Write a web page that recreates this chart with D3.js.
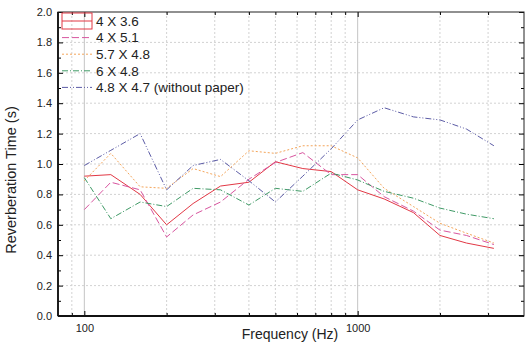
<!DOCTYPE html>
<html>
<head>
<meta charset="utf-8">
<script src="https://cdn.jsdelivr.net/npm/d3@7"></script>
<style>
  body { margin: 0; background: #fff; }
  svg { display: block; font-family: "Liberation Sans", Arial, sans-serif; }
</style>
</head>
<body>
<div id="chart"></div>
<script>
// Data
var frequencies = [100, 125, 160, 200, 250, 315, 400, 500, 630, 800, 1000, 1250, 1600, 2000, 2500, 3150]
var seriesNames = ["4 X 3.6", "4 X 5.1", "5.7 X 4.8", "6 X 4.8", "4.8 X 4.7 (without paper)"]
var room4x36 = [0.92, 0.93, 0.80, 0.60, 0.74, 0.855, 0.88, 1.015, 0.97, 0.95, 0.83, 0.77, 0.68, 0.53, 0.48, 0.445]
var room4x51 = [0.70, 0.88, 0.83, 0.52, 0.665, 0.75, 0.90, 1.01, 1.075, 0.93, 0.93, 0.785, 0.69, 0.565, 0.53, 0.47]
var room57x48 = [0.89, 1.07, 0.85, 0.84, 0.97, 0.917, 1.087, 1.07, 1.12, 1.12, 1.04, 0.84, 0.72, 0.61, 0.545, 0.48]
var room6x48 = [0.91, 0.64, 0.75, 0.72, 0.84, 0.83, 0.73, 0.84, 0.82, 0.94, 0.895, 0.82, 0.775, 0.71, 0.67, 0.64]
var room48x47 = [0.99, 1.09, 1.20, 0.83, 0.99, 1.03, 0.89, 0.75, 0.92, 1.10, 1.29, 1.37, 1.31, 1.29, 1.23, 1.12]
var yTicks = [0.0, 0.2, 0.4, 0.6, 0.8, 1.0, 1.2, 1.4, 1.6, 1.8, 2.0]
var xTickLabels = [100, 1000]
var xMinorTicks = [90, 200, 300, 400, 500, 600, 700, 800, 900, 2000, 3000]

var allSeries = [room4x36, room4x51, room57x48, room6x48, room48x47]
var colors = ["#e23845", "#d8559f", "#f4a55a", "#3f9a66", "#5c5ca6"]
var dashes = [null, "7,3", "2,2", "6,2,1,2", "6,2,1,2,1,2"]

// Chart dimensions
var dimensions = {
  width: 526,
  height: 343,
  margin: { top: 12, right: 2, bottom: 27, left: 58 },
}
dimensions.boundedWidth = dimensions.width - dimensions.margin.left - dimensions.margin.right
dimensions.boundedHeight = dimensions.height - dimensions.margin.top - dimensions.margin.bottom

var svg = d3.select("#chart")
  .append("svg")
  .attr("width", dimensions.width)
  .attr("height", dimensions.height)

var bounds = svg.append("g")
  .attr("transform", `translate(${dimensions.margin.left},${dimensions.margin.top})`)

// Scales
var xScale = d3.scaleLog()
  .domain([80.1, 4060])
  .range([0, dimensions.boundedWidth])

var yScale = d3.scaleLinear()
  .domain([0, 2])
  .range([dimensions.boundedHeight, 0])

// Grid
bounds.append("g")
  .selectAll("line")
  .data(xMinorTicks)
  .join("line")
  .attr("x1", d => xScale(d)).attr("x2", d => xScale(d))
  .attr("y1", 0).attr("y2", dimensions.boundedHeight)
  .attr("stroke", "#d2d2d2")
  .attr("stroke-dasharray", "2,2")

bounds.append("g")
  .selectAll("line")
  .data(xTickLabels)
  .join("line")
  .attr("x1", d => xScale(d)).attr("x2", d => xScale(d))
  .attr("y1", 0).attr("y2", dimensions.boundedHeight)
  .attr("stroke", "#c4c4c4")

bounds.append("g")
  .selectAll("line")
  .data(yTicks.slice(1, -1))
  .join("line")
  .attr("x1", 0).attr("x2", dimensions.boundedWidth)
  .attr("y1", d => yScale(d)).attr("y2", d => yScale(d))
  .attr("stroke", "#d2d2d2")
  .attr("stroke-dasharray", "2,2")

// Lines
var lineGenerator = d3.line()
  .x((d, i) => xScale(frequencies[i]))
  .y(d => yScale(d))

bounds.append("g")
  .selectAll("path")
  .data(allSeries)
  .join("path")
  .attr("d", d => lineGenerator(d))
  .attr("fill", "none")
  .attr("stroke", (d, i) => colors[i])
  .attr("stroke-width", 1)
  .attr("stroke-dasharray", (d, i) => dashes[i])

// Axes (ticks pointing inward, on all four sides)
var yMinor = d3.range(0.1, 2, 0.2)

var yAxisGenerator = d3.axisLeft(yScale)
  .tickValues(yTicks)
  .tickFormat(d3.format(".1f"))
  .tickSizeInner(-5)
  .tickSizeOuter(0)
  .tickPadding(6)

var yAxis = bounds.append("g")
  .call(yAxisGenerator)
yAxis.selectAll("text").style("font-size", "11px").attr("fill", "#222")

bounds.append("g")
  .call(d3.axisLeft(yScale).tickValues(yMinor).tickSizeInner(-3).tickSizeOuter(0).tickFormat(""))

bounds.append("g")
  .attr("transform", `translate(${dimensions.boundedWidth},0)`)
  .call(d3.axisRight(yScale).tickValues(yTicks).tickSizeInner(-5).tickSizeOuter(0).tickFormat(""))

bounds.append("g")
  .attr("transform", `translate(${dimensions.boundedWidth},0)`)
  .call(d3.axisRight(yScale).tickValues(yMinor).tickSizeInner(-3).tickSizeOuter(0).tickFormat(""))

var xAxisGenerator = d3.axisBottom(xScale)
  .tickValues(xTickLabels)
  .tickFormat(d3.format("d"))
  .tickSizeInner(-5)
  .tickSizeOuter(0)
  .tickPadding(8)

var xAxis = bounds.append("g")
  .attr("transform", `translate(0,${dimensions.boundedHeight})`)
  .call(xAxisGenerator)
xAxis.selectAll("text").style("font-size", "11px").attr("fill", "#222")

bounds.append("g")
  .attr("transform", `translate(0,${dimensions.boundedHeight})`)
  .call(d3.axisBottom(xScale).tickValues(xMinorTicks).tickSizeInner(-3).tickSizeOuter(0).tickFormat(""))

bounds.append("g")
  .call(d3.axisTop(xScale).tickValues(xTickLabels).tickSizeInner(-5).tickSizeOuter(0).tickFormat(""))

bounds.append("g")
  .call(d3.axisTop(xScale).tickValues(xMinorTicks).tickSizeInner(-3).tickSizeOuter(0).tickFormat(""))

bounds.selectAll(".domain").remove()

// Frame
bounds.append("rect")
  .attr("width", dimensions.boundedWidth)
  .attr("height", dimensions.boundedHeight)
  .attr("fill", "none")
  .attr("stroke", "#222")
  .attr("stroke-width", 1)

bounds.append("line")
  .attr("x1", 0).attr("x2", dimensions.boundedWidth)
  .attr("y1", dimensions.boundedHeight).attr("y2", dimensions.boundedHeight)
  .attr("stroke", "#111").attr("stroke-width", 1.8)
bounds.append("line")
  .attr("x1", 0).attr("x2", 0)
  .attr("y1", 0).attr("y2", dimensions.boundedHeight)
  .attr("stroke", "#111").attr("stroke-width", 1.8)

// Axis labels
svg.append("text")
  .attr("x", 290)
  .attr("y", 339)
  .attr("text-anchor", "middle")
  .style("font-size", "14px")
  .attr("fill", "#222")
  .text("Frequency (Hz)")

svg.append("text")
  .attr("transform", "translate(16,180) rotate(-90)")
  .attr("text-anchor", "middle")
  .style("font-size", "14.5px")
  .attr("fill", "#222")
  .text("Reverberation Time (s)")

// Legend
var legend = svg.append("g")
  .attr("transform", "translate(62,21)")

var rows = legend.selectAll("g")
  .data(seriesNames)
  .join("g")
  .attr("transform", (d, i) => `translate(0,${i * 16.6})`)

rows.append("line")
  .attr("x1", 0).attr("x2", 30)
  .attr("stroke", (d, i) => colors[i])
  .attr("stroke-dasharray", (d, i) => dashes[i])

rows.append("text")
  .attr("x", 34)
  .attr("dy", "0.35em")
  .style("font-size", "13.5px")
  .attr("fill", "#222")
  .text(d => d)

legend.append("rect")
  .attr("x", 0).attr("y", -8)
  .attr("width", 30).attr("height", 16)
  .attr("fill", "none")
  .attr("stroke", colors[0])
</script>
</body>
</html>
